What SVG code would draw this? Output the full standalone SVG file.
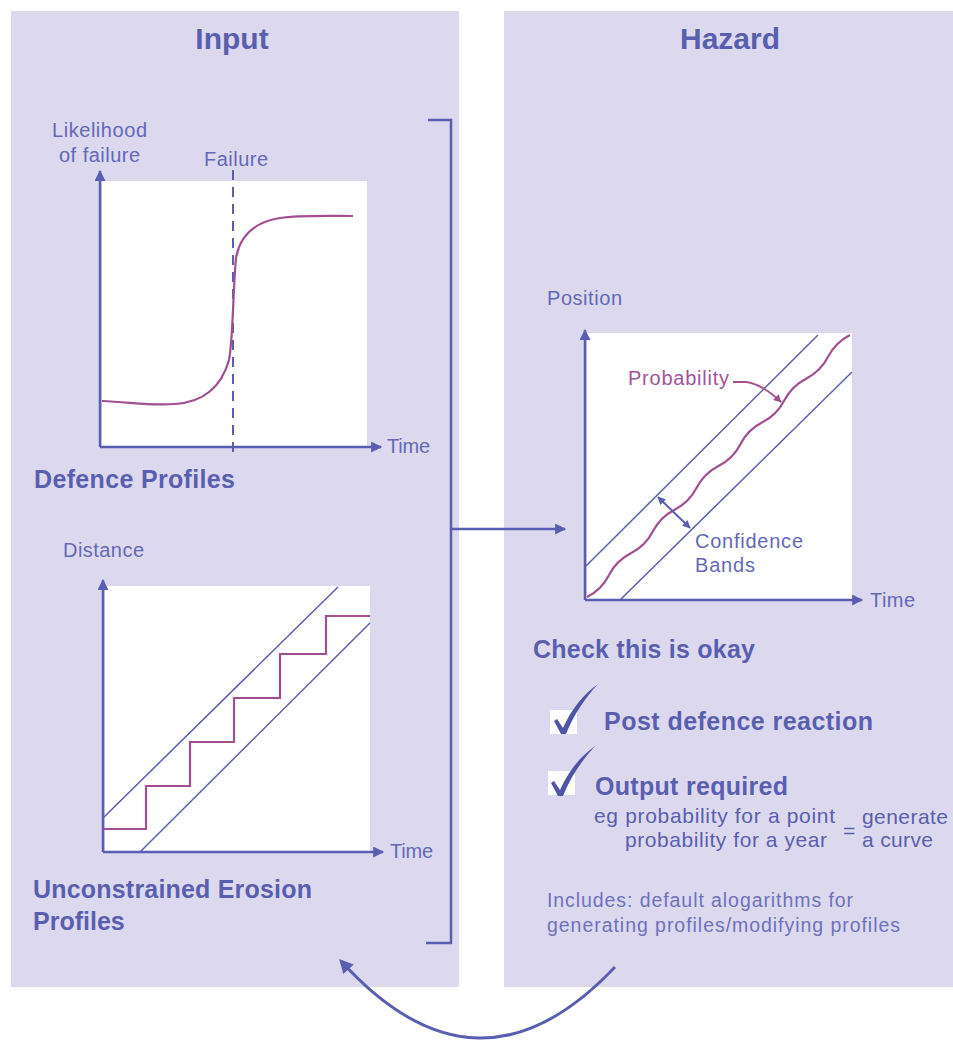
<svg xmlns="http://www.w3.org/2000/svg" width="953" height="1040" viewBox="0 0 953 1040">
<defs>
<style>
.panel{fill:#dcd9ef}
.plot{fill:#ffffff}
.axis{stroke:#5a5eb0;stroke-width:2.5;fill:none}
.band{stroke:#5a5eb0;stroke-width:1.5;fill:none}
.mag{stroke:#a0508f;stroke-width:2.2;fill:none}
.t{font-family:"Liberation Sans",Arial,sans-serif;fill:#5a5eae}
.title{font-size:30px;font-weight:bold}
.head{font-size:25px;font-weight:bold}
.lab{font-size:20px;fill:#6468b6}
.sm{font-size:19.5px;fill:#6e72bb}
.mid{font-size:21px}
</style>
<marker id="ah" viewBox="0 0 10 10" refX="9" refY="5" markerWidth="15" markerHeight="11" markerUnits="userSpaceOnUse" orient="auto-start-reverse"><path d="M0,0 L10,5 L0,10 z" fill="#5a5eb0"/></marker>
<marker id="ahm" viewBox="0 0 10 10" refX="9" refY="5" markerWidth="11" markerHeight="8" markerUnits="userSpaceOnUse" orient="auto"><path d="M0,0 L10,5 L0,10 z" fill="#a0508f"/></marker>
<marker id="ahs" viewBox="0 0 10 10" refX="9" refY="5" markerWidth="10" markerHeight="8" markerUnits="userSpaceOnUse" orient="auto-start-reverse"><path d="M0,0 L10,5 L0,10 z" fill="#5a5eb0"/></marker>
<marker id="ahb" viewBox="0 0 10 10" refX="8" refY="5" markerWidth="18" markerHeight="14" markerUnits="userSpaceOnUse" orient="auto"><path d="M0,0 L10,5 L0,10 z" fill="#5a5eb0"/></marker>
</defs>
<rect x="0" y="0" width="953" height="1040" fill="#ffffff"/>

<g id="panel-input">
<rect class="panel" x="11" y="11" width="448" height="976"/>
<text class="t title" x="232" y="49" text-anchor="middle">Input</text>
</g>
<g id="panel-hazard">
<rect class="panel" x="504" y="11" width="449" height="976"/>
<text class="t title" x="730" y="49" text-anchor="middle">Hazard</text>
</g>

<g id="graph-defence">
<rect class="plot" x="102" y="181" width="265" height="266"/>
<line class="axis" x1="100" y1="447" x2="100" y2="171" marker-end="url(#ah)"/>
<line class="axis" x1="100" y1="447" x2="381" y2="447" marker-end="url(#ah)"/>
<line x1="233" y1="170" x2="233" y2="457" stroke="#5a5eb0" stroke-width="2" stroke-dasharray="10,7"/>
<path class="mag" d="M102 401 C130 402 150 406 175 404 C205 402 222 385 229 360 C233 340 233 290 236 258 C240 235 255 222 280 218 C300 215 330 216 353 216"/>
<text class="t lab" x="52" y="137" textLength="95">Likelihood</text>
<text class="t lab" x="59" y="162" textLength="81">of failure</text>
<text class="t lab" x="204" y="166" textLength="64">Failure</text>
<text class="t lab" x="387" y="453" textLength="43">Time</text>
<text class="t head" x="34" y="488" textLength="201">Defence Profiles</text>
</g>

<g id="graph-erosion">
<rect class="plot" x="105" y="586" width="265" height="266"/>
<line class="axis" x1="103" y1="852" x2="103" y2="580" marker-end="url(#ah)"/>
<line class="axis" x1="103" y1="852" x2="383" y2="852" marker-end="url(#ah)"/>
<line class="band" x1="103" y1="818" x2="338" y2="587"/>
<line class="band" x1="140" y1="852" x2="370" y2="623"/>
<path class="mag" d="M103 829 H146 V786 H190 V742 H234 V698 H280 V654 H326 V616 H370"/>
<text class="t lab" x="63" y="557" textLength="81">Distance</text>
<text class="t lab" x="390" y="858" textLength="43">Time</text>
<text class="t head" x="33" y="898" textLength="279">Unconstrained Erosion</text>
<text class="t head" x="33" y="930">Profiles</text>
</g>

<g id="graph-hazard">
<rect class="plot" x="587" y="333" width="265" height="267"/>
<line class="axis" x1="585" y1="600" x2="585" y2="330" marker-end="url(#ah)"/>
<line class="axis" x1="585" y1="600" x2="862" y2="600" marker-end="url(#ah)"/>
<line class="band" x1="585" y1="567" x2="818" y2="335"/>
<line class="band" x1="620" y1="600" x2="852" y2="372"/>
<path class="mag" d="M587 597 Q601.5 589.62 608.92 575.17 T630.83 553.33 T652.75 531.5 T674.67 509.67 T696.58 487.83 T718.5 466 T740.42 444.17 T762.33 422.33 T784.25 400.5 T806.17 378.67 T828.08 356.83 T850 335"/>
<path d="M733 382 L746 382 Q762 384 781 402" stroke="#a0508f" stroke-width="1.8" fill="none" marker-end="url(#ahm)"/>
<line x1="658" y1="497" x2="690" y2="528" stroke="#5a5eb0" stroke-width="2" marker-start="url(#ahs)" marker-end="url(#ahs)"/>
<text class="t lab" x="547" y="305" textLength="75">Position</text>
<text class="t lab" x="628" y="385" textLength="101" style="fill:#a0559a">Probability</text>
<text class="t lab" x="695" y="548" textLength="108">Confidence</text>
<text class="t lab" x="695" y="572" textLength="60">Bands</text>
<text class="t lab" x="870" y="607" textLength="45">Time</text>
</g>

<g id="checklist">
<text class="t head" x="533" y="658" textLength="222">Check this is okay</text>
<rect x="550" y="710" width="27" height="24" fill="#ffffff"/>
<path d="M554 721 L557 719 L563 728 C572 708 584 694 598 684 C586 697 574 714 566 734 L561 734 Z" fill="#5054a8"/>
<text class="t head" x="604" y="730" textLength="269">Post defence reaction</text>
<rect x="548" y="771" width="27" height="24" fill="#ffffff"/>
<path d="M554 721 L557 719 L563 728 C572 708 584 694 598 684 C586 697 574 714 566 734 L561 734 Z" fill="#5054a8" transform="translate(-3,62)"/>
<text class="t head" x="595" y="795" textLength="193">Output required</text>
<text class="t mid" x="594" y="823" textLength="241">eg probability for a point</text>
<text class="t mid" x="625" y="847" textLength="202">probability for a year</text>
<text class="t mid" x="843" y="838">=</text>
<text class="t mid" x="862" y="824" textLength="86">generate</text>
<text class="t mid" x="862" y="847" textLength="71">a curve</text>
<text class="t sm" x="547" y="907" textLength="306">Includes: default alogarithms for</text>
<text class="t sm" x="547" y="932" textLength="353">generating profiles/modifying profiles</text>
</g>

<g id="connectors">
<path d="M428 120 H451 V943 H426" stroke="#5a5eb0" stroke-width="2.5" fill="none"/>
<line x1="451" y1="529" x2="565" y2="529" stroke="#5a5eb0" stroke-width="2.5" marker-end="url(#ah)"/>
<path d="M615 967 Q478 1112 341 961" stroke="#5a5eb0" stroke-width="3" fill="none" marker-end="url(#ahb)"/>
</g>
</svg>
